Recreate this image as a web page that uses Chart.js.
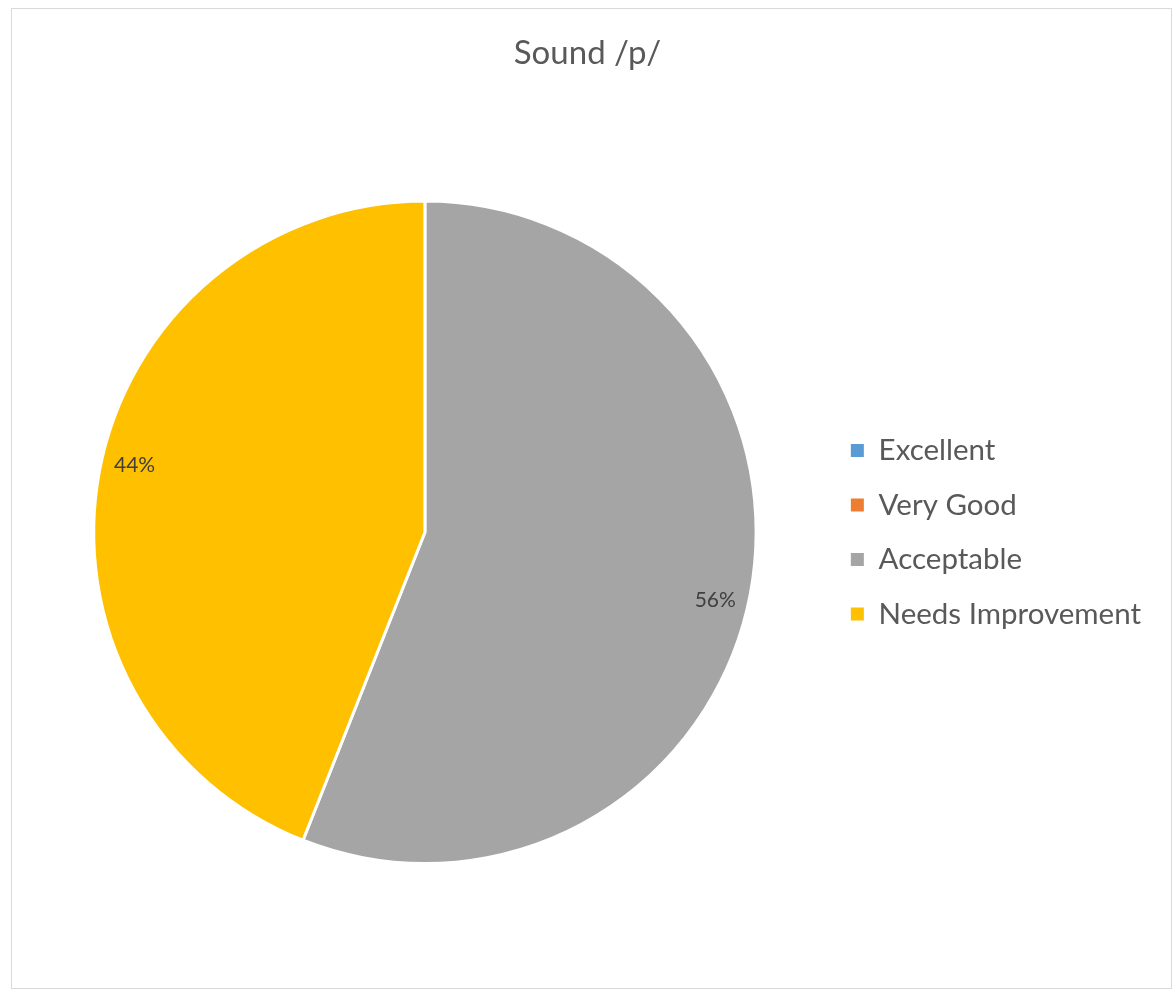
<!DOCTYPE html>
<html>
<head>
<meta charset="utf-8">
<script src="https://cdn.jsdelivr.net/npm/chart.js@4.4.1/dist/chart.umd.min.js"></script>
<style>
  body { margin: 0; background: #fff; }
  #frame {
    position: absolute; left: 11px; top: 8px;
    width: 1159px; height: 979px;
    border: 1px solid #d9d9d9;
  }
  #wrap { position: absolute; left: 0; top: 0; width: 1175px; height: 991px; }
</style>
</head>
<body>
<div id="frame"></div>
<div id="wrap"><canvas id="pieChart" width="1175" height="991"></canvas></div>
<script>
const chartTitle = "Sound /p/";
const categories = ["Excellent", "Very Good", "Acceptable", "Needs Improvement"];
const shares = [0, 0, 56, 44];
const sliceColors = ["#5B9BD5", "#ED7D31", "#A5A5A5", "#FFC000"];

const FONT = "Lato, 'Open Sans', sans-serif";

// draws the percent labels inside each slice, near the rim
const sliceLabels = {
  id: "sliceLabels",
  afterDatasetsDraw(chart) {
    const ctx = chart.ctx;
    const meta = chart.getDatasetMeta(0);
    const data = chart.data.datasets[0].data;
    const total = data.reduce((a, b) => a + b, 0);
    ctx.save();
    ctx.font = "21px " + FONT;
    ctx.fillStyle = "#404040";
    ctx.textAlign = "center";
    ctx.textBaseline = "middle";
    meta.data.forEach((arc, i) => {
      if (!data[i]) return;
      const p = arc.getProps(["x", "y", "startAngle", "endAngle", "outerRadius"], true);
      const mid = (p.startAngle + p.endAngle) / 2 + 0.04; // excel nudges labels a bit clockwise
      const r = p.outerRadius * 0.9;
      const pct = Math.round((data[i] / total) * 100) + "%";
      ctx.fillText(pct, p.x + Math.cos(mid) * r, p.y + Math.sin(mid) * r);
    });
    ctx.restore();
  },
};

const ctx = document.getElementById("pieChart").getContext("2d");
const pieChart = new Chart(ctx, {
  type: "pie",
  data: {
    labels: categories,
    datasets: [
      {
        data: shares,
        backgroundColor: sliceColors,
        borderColor: "#ffffff",
        borderWidth: 3,
      },
    ],
  },
  options: {
    responsive: false,
    animation: false,
    layout: { padding: { left: 24, right: 24, top: 0, bottom: 126 } },
    plugins: {
      title: {
        display: true,
        text: chartTitle,
        color: "#595959",
        font: { family: FONT, size: 33, weight: "normal" },
        padding: { top: 34, bottom: 126 },
      },
      legend: {
        position: "right",
        fullSize: false,
        labels: {
          color: "#595959",
          font: { family: FONT, size: 29.5 },
          boxWidth: 13,
          boxHeight: 13,
          padding: 25,
          generateLabels(chart) {
            const items = Chart.controllers.pie.overrides.plugins.legend.labels.generateLabels(chart);
            items.forEach((it) => { it.lineWidth = 0; it.strokeStyle = it.fillStyle; });
            return items;
          },
        },
      },
      tooltip: { enabled: false },
    },
  },
  plugins: [sliceLabels],
});
</script>
</body>
</html>
